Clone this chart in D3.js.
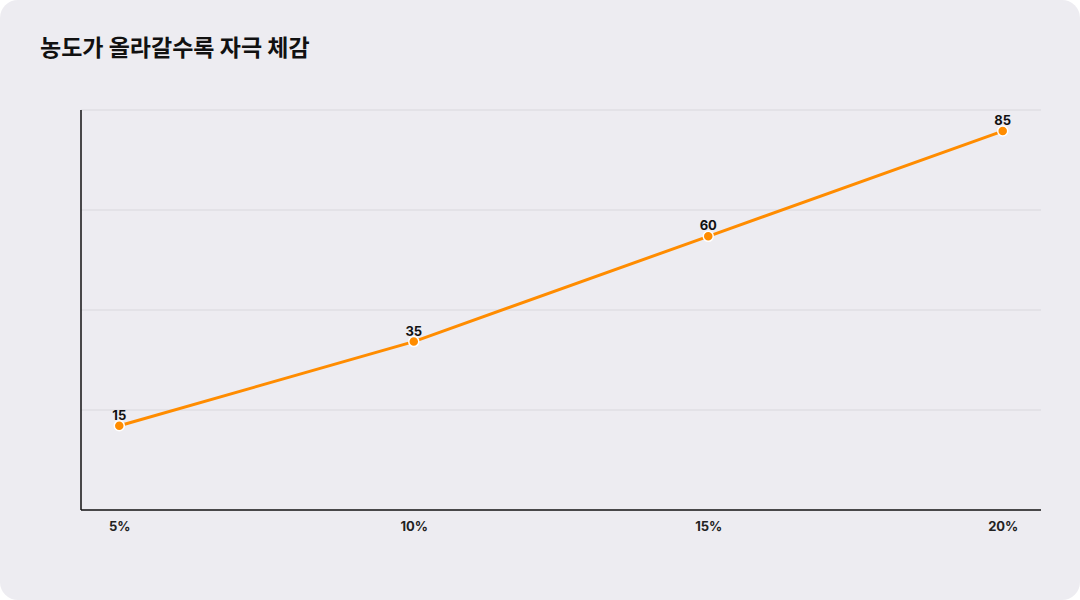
<!DOCTYPE html>
<html>
<head>
<meta charset="utf-8">
<script src="https://cdn.jsdelivr.net/npm/d3@7"></script>
<style>
  body { margin: 0; background: #fff; font-family: Inter, "Noto Sans CJK KR", sans-serif; }
</style>
</head>
<body>
<svg id="chart" width="1080" height="600"></svg>
<script>
var categories = ['5%', '10%', '15%', '20%'];
var values = [15, 35, 60, 85];
var title = '농도가 올라갈수록 자극 체감';

var svg = d3.select('#chart');
var margin = {left: 81, right: 1041, top: 110, bottom: 510};

svg.append('rect')
    .attr('width', 1080).attr('height', 600)
    .attr('rx', 18).attr('fill', '#edecf1');

svg.append('text')
    .attr('x', 40).attr('y', 56)
    .attr('font-size', 23).attr('font-weight', 700)
    .attr('fill', '#111')
    .attr('font-family', '"Noto Sans CJK KR", sans-serif')
    .text(title);

var x = d3.scalePoint().domain(categories)
    .range([margin.left, margin.right]).padding(0.13);
var y = d3.scaleLinear().domain([-5, 90])
    .range([margin.bottom, margin.top]);

// gridlines: four even divisions of the plot height
var grid = d3.range(4).map(function(i) { return margin.top + i * 100; });
svg.selectAll('.grid').data(grid).enter().append('line')
    .attr('x1', margin.left).attr('x2', margin.right)
    .attr('y1', function(d) { return d; }).attr('y2', function(d) { return d; })
    .attr('stroke', '#d9d8dd').attr('stroke-width', 1);

svg.append('line')
    .attr('x1', margin.left).attr('x2', margin.left)
    .attr('y1', margin.top).attr('y2', margin.bottom)
    .attr('stroke', '#111').attr('stroke-width', 1.5);
svg.append('line')
    .attr('x1', margin.left).attr('x2', margin.right)
    .attr('y1', margin.bottom).attr('y2', margin.bottom)
    .attr('stroke', '#111').attr('stroke-width', 1.5);

var xAxis = svg.append('g')
    .attr('transform', 'translate(0,' + margin.bottom + ')')
    .call(d3.axisBottom(x).tickSize(0).tickPadding(12));
xAxis.select('.domain').remove();
xAxis.selectAll('text')
    .attr('font-size', 13).attr('font-weight', 700)
    .attr('fill', '#222').attr('font-family', 'Inter, sans-serif');

var data = categories.map(function(c, i) { return {c: c, v: values[i]}; });

svg.append('path').datum(data)
    .attr('fill', 'none').attr('stroke', '#ff8c00').attr('stroke-width', 3)
    .attr('d', d3.line()
        .x(function(d) { return x(d.c); })
        .y(function(d) { return y(d.v); }));

svg.selectAll('.dot').data(data).enter().append('circle')
    .attr('cx', function(d) { return x(d.c); })
    .attr('cy', function(d) { return y(d.v); })
    .attr('r', 5).attr('fill', '#ff8c00')
    .attr('stroke', '#fff').attr('stroke-width', 1.5);

svg.selectAll('.lbl').data(data).enter().append('text')
    .attr('x', function(d) { return x(d.c); })
    .attr('y', function(d) { return y(d.v) - 6; })
    .attr('text-anchor', 'middle')
    .attr('font-size', 13).attr('font-weight', 700)
    .attr('fill', '#111').attr('font-family', 'Inter, sans-serif')
    .text(function(d) { return d.v; });
</script>
</body>
</html>
